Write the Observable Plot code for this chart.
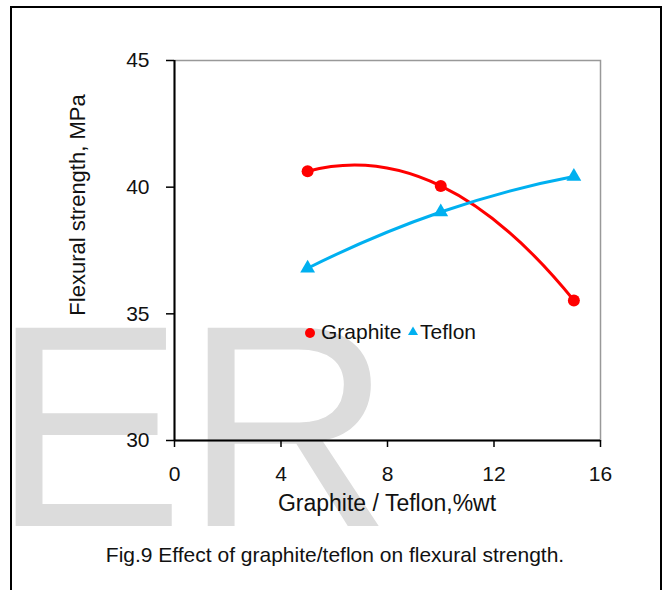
<!DOCTYPE html>
<html>
<head>
<meta charset="utf-8">
<script src="https://cdn.jsdelivr.net/npm/d3@7"></script>
<script src="https://cdn.jsdelivr.net/npm/@observablehq/plot@0.6"></script>
<style>
  html, body { margin: 0; padding: 0; background: #fff; }
  #wrap { position: relative; width: 665px; height: 590px; overflow: hidden; background: #fff;
          font-family: "Liberation Sans", Arial, sans-serif; color: #111; }
  .abs { position: absolute; white-space: nowrap; line-height: 1; }
  #border { position: absolute; left: 10px; top: 6px; width: 652px; height: 620px; border: 2px solid #000; box-sizing: border-box; }
  #wm { position: absolute; left: -8px; top: 282px; font-size: 288px; line-height: 1; color: #dcdcdc; white-space: nowrap; }
  #chart { position: absolute; left: 0; top: 0; }
</style>
</head>
<body>
<div id="wrap">
  <div id="border"></div>
  <div id="wm">ER</div>
  <div id="chart"></div>
  <div class="abs" id="ytitle" style="left:78px; top:205px; font-size:22px; transform: translate(-50%,-50%) rotate(-90deg);"></div>
  <div class="abs" id="xtitle" style="left:387px; top:492px; font-size:23px; transform: translateX(-50%);"></div>
  <div class="abs" id="legend" style="left:0; top:0;"></div>
  <div class="abs" id="caption" style="left:335px; top:544px; font-size:21px; transform: translateX(-50%);"></div>
</div>
<script>
// ---- data ----
const loadings = [5, 10, 15];                 // Graphite / Teflon, %wt
const graphite = [40.63, 40.05, 35.53];        // Flexural strength, MPa
const teflon   = [36.80, 39.02, 40.42];
const seriesNames = ["Graphite", "Teflon"];
const xTicks = [0, 4, 8, 12, 16];
const yTicks = [30, 35, 40, 45];
const xTitle = "Graphite / Teflon,%wt";
const yTitle = "Flexural strength, MPa";
const caption = "Fig.9 Effect of graphite/teflon on flexural strength.";
const colors = ["#ff0000", "#00b0f0"];

const rows = [
  ...loadings.map((x, i) => ({x, y: graphite[i], s: seriesNames[0]})),
  ...loadings.map((x, i) => ({x, y: teflon[i], s: seriesNames[1]}))
];

// Excel-like smoothed curve (Hermite spline with parabolic end tangents)
function excelCurve(context) {
  let xs, ys;
  return {
    areaStart() {}, areaEnd() {},
    lineStart() { xs = []; ys = []; },
    point(x, y) { xs.push(+x); ys.push(+y); },
    lineEnd() {
      const n = xs.length;
      if (!n) return;
      context.moveTo(xs[0], ys[0]);
      if (n === 2) { context.lineTo(xs[1], ys[1]); return; }
      const d = [], m = new Array(n);
      for (let i = 0; i < n - 1; i++) d[i] = (ys[i + 1] - ys[i]) / (xs[i + 1] - xs[i]);
      for (let i = 1; i < n - 1; i++) m[i] = (ys[i + 1] - ys[i - 1]) / (xs[i + 1] - xs[i - 1]);
      m[0] = 2 * d[0] - m[1];
      m[n - 1] = 2 * d[n - 2] - m[n - 2];
      for (let i = 0; i < n - 1; i++) {
        const h = xs[i + 1] - xs[i];
        context.bezierCurveTo(xs[i] + h / 3, ys[i] + m[i] * h / 3,
                              xs[i + 1] - h / 3, ys[i + 1] - m[i + 1] * h / 3,
                              xs[i + 1], ys[i + 1]);
      }
    }
  };
}

const font = '"Liberation Sans", Arial, sans-serif';
const chart = Plot.plot({
  width: 665,
  height: 530,
  marginLeft: 174,
  marginRight: 65,
  marginTop: 60,
  marginBottom: 90,
  style: { background: "transparent", fontFamily: font, color: "#111", overflow: "visible" },
  x: { domain: [0, 16] },
  y: { domain: [30, 45] },
  color: { domain: seriesNames, range: colors },
  marks: [
    Plot.frame({ stroke: "#999", strokeWidth: 1.5 }),
    Plot.ruleX([0], { stroke: "#000", strokeWidth: 2 }),
    Plot.ruleY([30], { stroke: "#000", strokeWidth: 2 }),
    Plot.axisX({ ticks: xTicks, tickSize: 7, tickPadding: 19, fontSize: 21, label: null, stroke: "#000", strokeWidth: 1.5 }),
    Plot.axisY({ ticks: yTicks, tickSize: 8, tickPadding: 17, fontSize: 21, label: null, stroke: "#000", strokeWidth: 1.5 }),
    Plot.line(rows, { x: "x", y: "y", z: "s", stroke: "s", strokeWidth: 3, curve: excelCurve }),
    Plot.dot(rows.filter(d => d.s === seriesNames[0]), { x: "x", y: "y", fill: "s", r: 6, symbol: "circle" }),
    Plot.dot(rows.filter(d => d.s === seriesNames[1]), { x: "x", y: "y", fill: "s", r: 5.5, symbol: "triangle" })
  ]
});
document.getElementById("chart").appendChild(chart);

document.getElementById("ytitle").textContent = yTitle;
document.getElementById("xtitle").textContent = xTitle;
document.getElementById("caption").textContent = caption;

// legend
const leg = document.getElementById("legend");
leg.innerHTML =
  `<svg width="12" height="12" style="position:absolute;left:304px;top:327px;overflow:visible"><circle cx="6" cy="6" r="5" fill="${colors[0]}"/></svg>` +
  `<div class="abs" style="left:321px;top:321px;font-size:21px;">${seriesNames[0]}</div>` +
  `<svg width="12" height="12" style="position:absolute;left:407px;top:325px;overflow:visible"><path d="M6,1.5 L11,10 L1,10 Z" fill="${colors[1]}"/></svg>` +
  `<div class="abs" style="left:420px;top:321px;font-size:21px;">${seriesNames[1]}</div>`;
</script>
</body>
</html>
